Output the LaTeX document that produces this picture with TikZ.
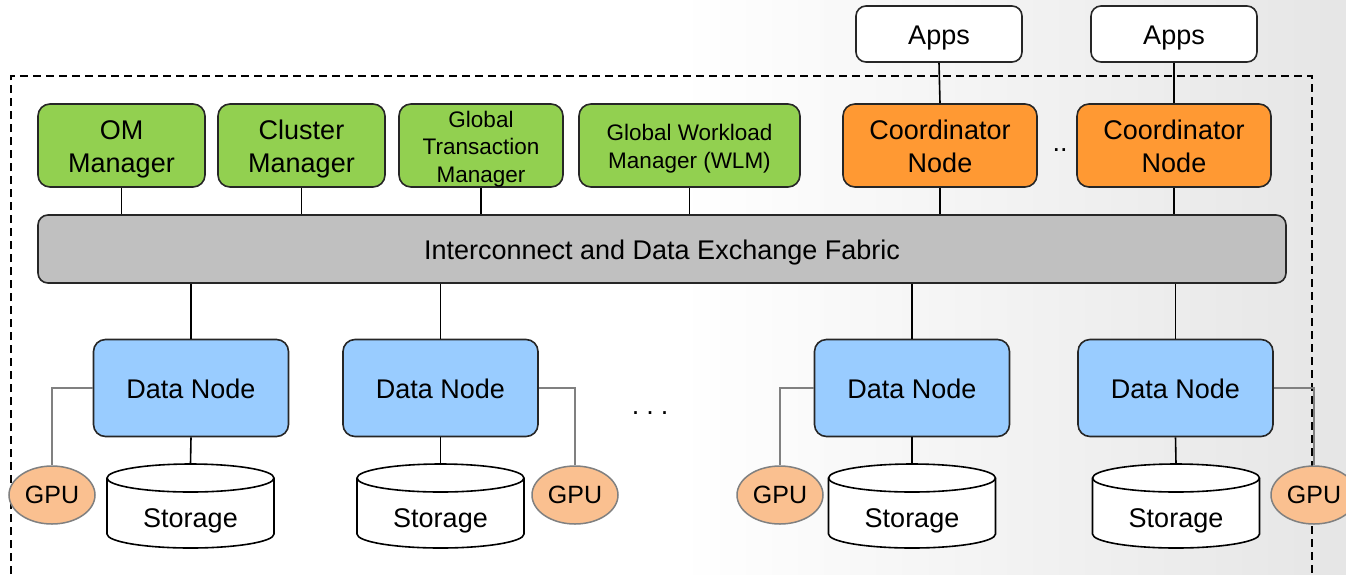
\documentclass[tikz,border=0pt]{standalone}
\usepackage{fontspec}
\setmainfont{Liberation Sans}
\usetikzlibrary{shapes.geometric}
\definecolor{mgreen}{HTML}{92D050}
\definecolor{morange}{HTML}{FF9933}
\definecolor{mblue}{HTML}{99CCFF}
\definecolor{mfabric}{HTML}{C0C0C0}
\definecolor{mgpu}{HTML}{FAC090}
\definecolor{mgrey}{HTML}{808080}
\newcommand\bt[1]{\raisebox{-3.5pt}[\height][\depth]{\begin{tabular}{@{}c@{}}#1\end{tabular}}}
\begin{document}
\begin{tikzpicture}[x=1pt,y=-1pt,
  box/.style={draw=black!85, line width=1.6pt, rounded corners=12pt,
    inner sep=0pt, font=\fontsize{27}{33}\selectfont},
  smallbox/.style={box, font=\fontsize{22.5}{27.5}\selectfont},
  appsbox/.style={box, fill=white, minimum width=166pt, minimum height=56pt, rounded corners=10pt},
  greenbox/.style={box, fill=mgreen, minimum height=83pt},
  coordbox/.style={box, fill=morange, minimum width=194pt, minimum height=83pt},
  databox/.style={box, fill=mblue, minimum width=195pt, minimum height=97pt},
  gpunode/.style={ellipse, draw=mgrey, line width=1.5pt, fill=mgpu, minimum width=86pt,
    minimum height=58pt, inner sep=0pt, font=\fontsize{25}{30}\selectfont},
  link/.style={draw=black, line width=1.6pt},
  gpulink/.style={draw=mgrey, line width=1.5pt},
  frame/.style={draw=black, line width=1.6pt, dash pattern=on 8pt off 5pt},
  storagebody/.style={draw=black, line width=1.6pt, fill=white},
  dotlabel/.style={font=\fontsize{27}{33}\selectfont, inner sep=0pt}
]
\useasboundingbox (0,0) rectangle (1346,574);
\fill[white] (0,0) rectangle (1346,574);
\shade[left color=white, right color=black!10] (680,0) rectangle (1346,574);

% dashed frame
\draw[frame] (11,574) -- (11,76) -- (1312,76) -- (1312,574);

% top row
\node[appsbox] (apps1) at (939,34) {\bt{Apps}};
\node[appsbox] (apps2) at (1174,34) {\bt{Apps}};
\node[coordbox] (coord1) at (940,145.5) {\bt{Coordinator\\Node}};
\node[coordbox] (coord2) at (1174,145.5) {\bt{Coordinator\\Node}};
\node[dotlabel] (cdots) at (1060,150) {..};

\node[greenbox, minimum width=167pt] (om) at (121.5,145.5) {\bt{OM\\Manager}};
\node[greenbox, minimum width=167pt] (cm) at (301.5,145.5) {\bt{Cluster\\Manager}};
\node[greenbox, smallbox, fill=mgreen, minimum width=164pt, minimum height=83pt] (gtm) at (481,145.5) {\bt{Global\\Transaction\\Manager}};
\node[greenbox, smallbox, fill=mgreen, minimum width=221pt, minimum height=83pt] (wlm) at (689.5,145.5) {\bt{Global Workload\\Manager (WLM)}};

% fabric
\node[box, fill=mfabric, minimum width=1248pt, minimum height=68pt, rounded corners=10pt] (fabric) at (662,249) {\bt{Interconnect and Data Exchange Fabric}};

% data nodes
\node[databox] (dn1) at (191,388) {\bt{Data Node}};
\node[databox] (dn2) at (440.5,388) {\bt{Data Node}};
\node[databox] (dn3) at (912,388) {\bt{Data Node}};
\node[databox] (dn4) at (1175.5,388) {\bt{Data Node}};
\node[dotlabel] (ddots) at (650,413) {.\hspace{7pt}.\hspace{7pt}.};

% storage cylinders
\foreach \c/\n in {190.5/st1, 440.5/st2, 912/st3, 1176/st4}{
  \draw[storagebody] (\c-83.5,478) -- (\c-83.5,534)
    arc[start angle=180, end angle=360, x radius=83.5pt, y radius=14pt]
    -- (\c+83.5,478)
    arc[start angle=0, end angle=180, x radius=83.5pt, y radius=14pt] -- cycle;
  \draw[link] (\c-83.5,478) arc[start angle=180, end angle=360, x radius=83.5pt, y radius=14pt];
  \coordinate (\n) at (\c,464);
  \node[font=\fontsize{27}{33}\selectfont, inner sep=0pt] (\n label) at (\c,521) {Storage};
}

% GPUs
\node[gpunode] (gpu1) at (52,495) {GPU};
\node[gpunode] (gpu2) at (575,495) {GPU};
\node[gpunode] (gpu3) at (780,495) {GPU};
\node[gpunode] (gpu4) at (1314,495) {GPU};

% connectors
\draw[link] (apps1.south) -- (coord1.north);
\draw[link] (apps2.south) -- (coord2.north);
\foreach \n in {om, cm, gtm, wlm, coord1, coord2}{
  \draw[link] (\n.south) -- (\n.south |- fabric.north);
}
\foreach \n/\s in {dn1/st1, dn2/st2, dn3/st3, dn4/st4}{
  \draw[link] (\n.north) -- (\n.north |- fabric.south);
  \draw[link] (\n.south) -- (\s);
}
\draw[gpulink] (dn1.west) -| (gpu1.north);
\draw[gpulink] (dn2.east) -| (gpu2.north);
\draw[gpulink] (dn3.west) -| (gpu3.north);
\draw[gpulink] (dn4.east) -| (gpu4.north);
\end{tikzpicture}
\end{document}
